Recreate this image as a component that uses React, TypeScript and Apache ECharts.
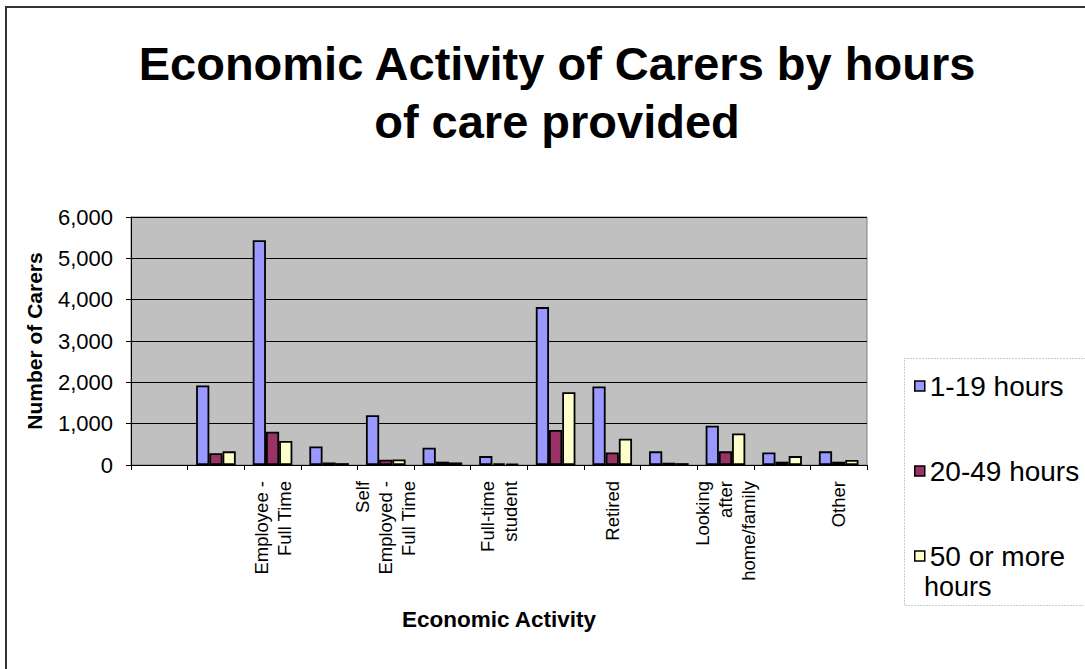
import React, { useEffect, useRef } from "react";
import * as echarts from "echarts";

const categories = [
  "",
  "Employee -\nPart Time",
  "Employee -\nFull Time",
  "Self\nEmployed -\nPart Time",
  "Self\nEmployed -\nFull Time",
  "Unemployed",
  "Full-time\nstudent",
  "Permanently\nsick/disabled",
  "Retired",
  "Student",
  "Looking\nafter\nhome/family",
  "Sick/disabled",
  "Other",
];

const seriesNames = ["1-19 hours", "20-49 hours", "50 or more hours"];

const hours1to19 = [null, 1925, 5440, 450, 1205, 420, 215, 3820, 1900, 330, 950, 305, 330];
const hours20to49 = [null, 283, 805, 60, 130, 80, 40, 845, 305, 55, 330, 80, 80];
const hours50plus = [null, 330, 580, 45, 135, 62, 25, 1762, 635, 45, 765, 215, 120];

const yTicks = [0, 1000, 2000, 3000, 4000, 5000, 6000];

const colors = ["#9999FF", "#993366", "#FFFFCC"];

export default function App() {
  const ref = useRef<HTMLDivElement>(null);

  useEffect(() => {
    if (!ref.current) return;
    const chart = echarts.init(ref.current, undefined, { renderer: "svg" });
    const font = "'Liberation Sans', Arial, sans-serif";
    const data = [hours1to19, hours20to49, hours50plus];
    chart.setOption({
      animation: false,
      backgroundColor: "#ffffff",
      textStyle: { fontFamily: font, color: "#000" },
      title: {
        text: "Economic Activity of Carers by hours\nof care provided",
        left: 552,
        top: 29,
        textAlign: "center",
        textStyle: {
          fontFamily: font,
          fontSize: 47,
          fontWeight: "bold",
          lineHeight: 58,
          color: "#000",
        },
      },
      grid: {
        left: 131,
        right: 218,
        top: 217,
        bottom: 204,
        show: true,
        backgroundColor: "#C0C0C0",
        borderColor: "#808080",
        borderWidth: 1,
      },
      legend: {
        orient: "vertical",
        left: 909,
        top: 367,
        itemWidth: 10,
        itemHeight: 10,
        itemGap: 57,
        icon: "rect",
        data: seriesNames,
        formatter: (n: string) => (n === "50 or more hours" ? "50 or more" : n),
        textStyle: { fontFamily: font, fontSize: 28, lineHeight: 28, color: "#000" },
        itemStyle: { borderColor: "#000", borderWidth: 1.5 },
      },
      xAxis: {
        type: "category",
        data: categories,
        boundaryGap: true,
        name: "Economic Activity",
        nameLocation: "middle",
        nameGap: 143,
        nameTextStyle: { fontFamily: font, fontSize: 22.5, fontWeight: "bold", color: "#000", verticalAlign: "top" },
        axisLine: { lineStyle: { color: "#000", width: 1 } },
        axisTick: { show: true, interval: 0, length: 5, lineStyle: { color: "#000" } },
        axisLabel: {
          interval: 1,
          rotate: 90,
          margin: 16,
          fontFamily: font,
          fontSize: 18.5,
          lineHeight: 23,
          color: "#000",
        },
      },
      yAxis: {
        type: "value",
        min: 0,
        max: 6000,
        interval: 1000,
        name: "Number of Carers",
        nameLocation: "middle",
        nameGap: 86,
        nameTextStyle: { fontFamily: font, fontSize: 21, fontWeight: "bold", color: "#000" },
        axisLine: { show: true, lineStyle: { color: "#000", width: 1 } },
        axisTick: { show: true, length: 5, lineStyle: { color: "#000" } },
        splitLine: { show: true, lineStyle: { color: "#000", width: 1 } },
        axisLabel: {
          margin: 18,
          fontFamily: font,
          fontSize: 22,
          color: "#000",
          customValues: yTicks,
          formatter: (v: number) => v.toLocaleString("en-US"),
        },
      },
      series: seriesNames.map((name, i) => ({
        name,
        type: "bar",
        data: data[i],
        barGap: "0%",
        barCategoryGap: "30%",
        itemStyle: { color: colors[i], borderColor: "#000", borderWidth: 1.8 },
      })),
      graphic: [
        {
          type: "text",
          left: 924,
          top: 573,
          style: { text: "hours", fontFamily: font, fontSize: 27, fill: "#000" },
          silent: true,
        },
        {
          type: "rect",
          left: 902,
          top: 356,
          shape: { width: 200, height: 247 },
          style: { fill: "none", stroke: "#999", lineWidth: 1, lineDash: [1, 2] },
          silent: true,
        },
        {
          type: "rect",
          shape: { x: 6, y: 7, width: 1100, height: 700 },
          style: { fill: "none", stroke: "#333", lineWidth: 2 },
          silent: true,
        },
      ],
    });
    return () => chart.dispose();
  }, []);

  return (
    <div
      ref={ref}
      style={{ position: "fixed", left: 0, top: 0, width: 1085, height: 669 }}
    />
  );
}
